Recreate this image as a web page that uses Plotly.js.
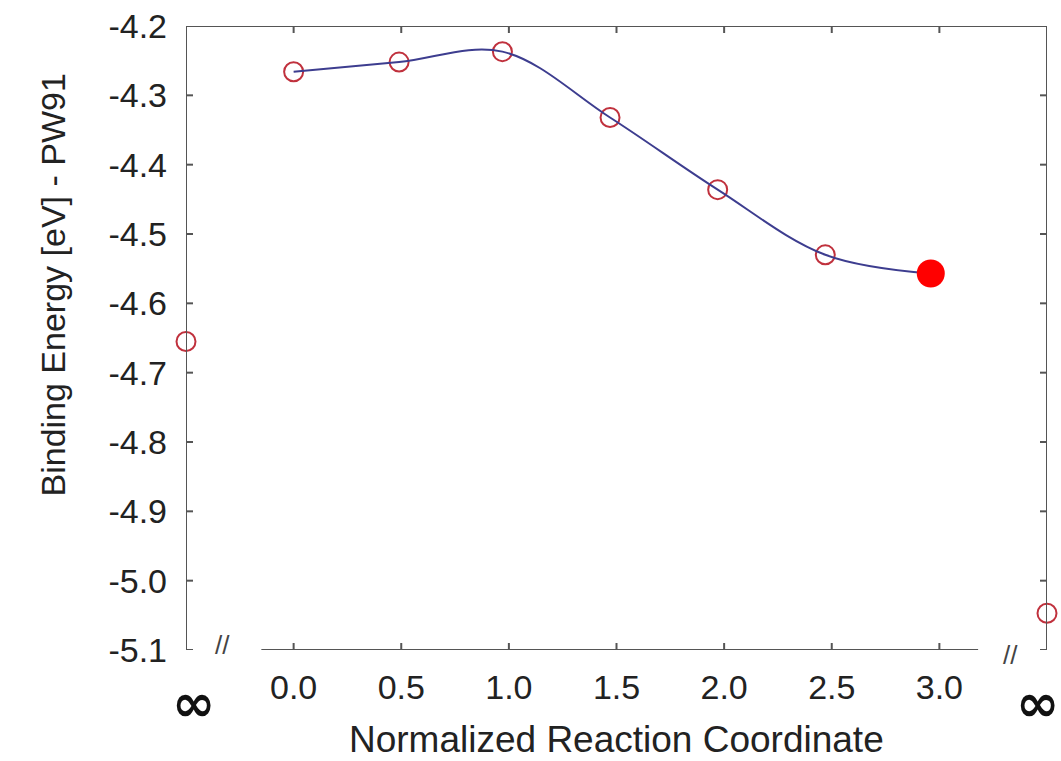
<!DOCTYPE html>
<html>
<head>
<meta charset="utf-8">
<script src="https://cdn.plot.ly/plotly-3.0.1.min.js"></script>
<style>html,body{margin:0;padding:0;background:#fff;}#chart{width:1061px;height:761px;}</style>
</head>
<body>
<div id="chart"></div>
<script>
// Data
const reactionCoord = [0.0, 0.49, 0.97, 1.47, 1.97, 2.47];
const bindingEnergy = [-4.266, -4.252, -4.237, -4.332, -4.436, -4.530];
const finalCoord = [2.96];
const finalEnergy = [-4.557];
const infCoord = [-0.5, 3.5];
const infEnergy = [-4.655, -5.047];
const xTickVals = [0, 0.5, 1, 1.5, 2, 2.5, 3];
const xTickText = ['0.0', '0.5', '1.0', '1.5', '2.0', '2.5', '3.0'];
const yTickVals = [-5.1, -5.0, -4.9, -4.8, -4.7, -4.6, -4.5, -4.4, -4.3, -4.2];
const yTickText = ['-5.1', '-5.0', '-4.9', '-4.8', '-4.7', '-4.6', '-4.5', '-4.4', '-4.3', '-4.2'];
const xRange = [-0.5, 3.5];
const yRange = [-5.1, -4.2];
const bottomLineSpan = [-0.15, 3.18];

const FONT = 'Liberation Sans, Arial, sans-serif';
const AXIS_COLOR = '#555555';
const TEXT_COLOR = '#222222';
const TICK_LEN = 7;

const curveX = reactionCoord.concat(finalCoord);
const curveY = bindingEnergy.concat(finalEnergy);

const traces = [
  {
    x: reactionCoord, y: bindingEnergy, mode: 'markers', type: 'scatter',
    marker: {symbol: 'circle-open', size: 19, color: '#c0313d', line: {width: 2, color: '#c0313d'}},
    showlegend: false, cliponaxis: false
  },
  {
    x: infCoord, y: infEnergy, mode: 'markers', type: 'scatter',
    marker: {symbol: 'circle-open', size: 19, color: '#c0313d', line: {width: 2, color: '#c0313d'}},
    showlegend: false, cliponaxis: false
  },
  {
    x: curveX, y: curveY, mode: 'lines', type: 'scatter',
    line: {shape: 'spline', smoothing: 1, color: '#3d3d8f', width: 2},
    showlegend: false
  },
  {
    x: finalCoord, y: finalEnergy, mode: 'markers', type: 'scatter',
    marker: {symbol: 'circle', size: 28, color: '#ff0000'},
    showlegend: false
  }
];

const tickLine = {color: AXIS_COLOR, width: 2};
const shapes = [
  // left spine
  {type: 'line', xref: 'x', yref: 'y', x0: xRange[0], x1: xRange[0], y0: yRange[0], y1: yRange[1], line: tickLine},
  // right spine
  {type: 'line', xref: 'x', yref: 'y', x0: xRange[1], x1: xRange[1], y0: yRange[0], y1: yRange[1], line: tickLine},
  // top spine
  {type: 'line', xref: 'x', yref: 'y', x0: xRange[0], x1: xRange[1], y0: yRange[1], y1: yRange[1], line: tickLine},
  // broken bottom axis
  {type: 'line', xref: 'x', yref: 'y', x0: bottomLineSpan[0], x1: bottomLineSpan[1], y0: yRange[0], y1: yRange[0], line: tickLine}
];
// inward ticks on all four sides, placed at the tick values
yTickVals.forEach(v => {
  shapes.push({type: 'line', xref: 'x', yref: 'y', xsizemode: 'pixel', xanchor: xRange[0],
    x0: 0, x1: TICK_LEN, y0: v, y1: v, line: tickLine});
  shapes.push({type: 'line', xref: 'x', yref: 'y', xsizemode: 'pixel', xanchor: xRange[1],
    x0: 0, x1: -TICK_LEN, y0: v, y1: v, line: tickLine});
});
xTickVals.forEach(v => {
  shapes.push({type: 'line', xref: 'x', yref: 'y', ysizemode: 'pixel', yanchor: yRange[0],
    y0: 0, y1: TICK_LEN, x0: v, x1: v, line: tickLine});
  shapes.push({type: 'line', xref: 'x', yref: 'y', ysizemode: 'pixel', yanchor: yRange[1],
    y0: 0, y1: -TICK_LEN, x0: v, x1: v, line: tickLine});
});

const annotations = [
  {text: 'Normalized Reaction Coordinate', xref: 'paper', yref: 'paper', x: 0.5, y: -0.144,
   xanchor: 'center', yanchor: 'middle', showarrow: false, font: {family: FONT, size: 37, color: TEXT_COLOR}},
  {text: 'Binding Energy [eV] - PW91', xref: 'paper', yref: 'paper', x: -0.155, y: 0.585, textangle: -90,
   xanchor: 'center', yanchor: 'middle', showarrow: false, font: {family: FONT, size: 34, color: TEXT_COLOR}},
  {text: '<b>∞</b>', xref: 'x', yref: 'paper', x: xRange[0], y: -0.085, xanchor: 'center', yanchor: 'middle',
   xshift: 7, showarrow: false, font: {family: 'DejaVu Sans, sans-serif', size: 52, color: '#111111'}},
  {text: '<b>∞</b>', xref: 'x', yref: 'paper', x: xRange[1], y: -0.085, xanchor: 'center', yanchor: 'middle',
   xshift: -10, showarrow: false, font: {family: 'DejaVu Sans, sans-serif', size: 52, color: '#111111'}},
  {text: '//', xref: 'x', yref: 'y', x: -0.33, y: yRange[0], xanchor: 'center', yanchor: 'middle',
   yshift: 5, showarrow: false, font: {family: FONT, size: 26, color: '#444444'}},
  {text: '//', xref: 'x', yref: 'y', x: 3.33, y: yRange[0], xanchor: 'center', yanchor: 'middle',
   yshift: -5, showarrow: false, font: {family: FONT, size: 26, color: '#444444'}}
];

const layout = {
  width: 1061, height: 761,
  margin: {l: 186, r: 14, t: 26, b: 111, pad: 0},
  paper_bgcolor: '#ffffff', plot_bgcolor: '#ffffff',
  showlegend: false,
  xaxis: {
    range: xRange, showgrid: false, zeroline: false, showline: false,
    tickmode: 'array', tickvals: xTickVals, ticktext: xTickText, ticks: '',
    tickfont: {family: FONT, size: 34, color: TEXT_COLOR}, ticklabelstandoff: 14
  },
  yaxis: {
    range: yRange, showgrid: false, zeroline: false, showline: false,
    tickmode: 'array', tickvals: yTickVals, ticktext: yTickText, ticks: '',
    tickfont: {family: FONT, size: 34, color: TEXT_COLOR}, ticklabelstandoff: 18
  },
  shapes: shapes,
  annotations: annotations
};

Plotly.newPlot('chart', traces, layout, {displayModeBar: false, staticPlot: true});
</script>
</body>
</html>
